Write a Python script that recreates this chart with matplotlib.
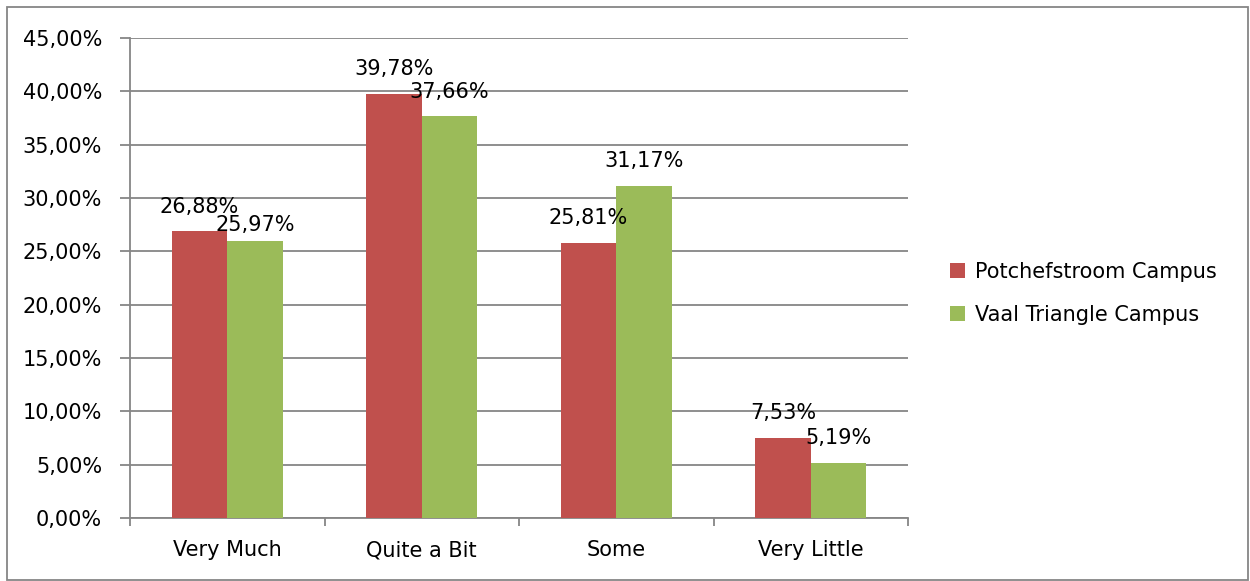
import matplotlib.pyplot as plt
import numpy as np
from matplotlib.patches import Rectangle

categories = ['Very Much', 'Quite a Bit', 'Some', 'Very Little']
potchefstroom = [26.88, 39.78, 25.81, 7.53]
vaal = [25.97, 37.66, 31.17, 5.19]
series_names = ['Potchefstroom Campus', 'Vaal Triangle Campus']
y_ticks = [0, 5, 10, 15, 20, 25, 30, 35, 40, 45]

plt.rcParams['font.family'] = ['DejaVu Sans']
grey = '#868686'
fs = 15

fig = plt.figure(figsize=(12.5, 5.81), dpi=100)
ax = fig.add_axes([0.104, 0.1084, 0.6224, 0.8262])

x = np.arange(len(categories))
w = 0.285
b1 = ax.bar(x - w / 2, potchefstroom, w, color='#C0504D', label=series_names[0], zorder=3)
b2 = ax.bar(x + w / 2, vaal, w, color='#9BBB59', label=series_names[1], zorder=3)

# value labels above bars (first green label sits lower, as in the original)
for k, (bars, vals) in enumerate(((b1, potchefstroom), (b2, vaal))):
    for i, (bar, v) in enumerate(zip(bars, vals)):
        dy = 4 if (k == 1 and i == 0) else 10.5
        ax.annotate(f"{v:.2f}%".replace('.', ','),
                    (bar.get_x() + bar.get_width() / 2, v),
                    xytext=(0, dy), textcoords='offset points',
                    ha='center', va='bottom', fontsize=fs, zorder=4)

ax.set_xlim(-0.5, len(categories) - 0.5)
ax.set_ylim(0, 45)
ax.set_yticks(y_ticks)
ax.set_yticklabels([f"{t:.2f}%".replace('.', ',') for t in y_ticks], fontsize=fs)
ax.yaxis.grid(True, color=grey, linewidth=1.3, zorder=0)

ax.set_xticks(x)
ax.set_xticklabels(categories, fontsize=fs)
ax.set_xticks(np.arange(len(categories) + 1) - 0.5, minor=True)
ax.tick_params(axis='x', which='major', length=0, pad=16)
ax.tick_params(axis='x', which='minor', length=6, width=1.3, color=grey)
ax.tick_params(axis='y', length=7, width=1.3, color=grey, pad=13)

for s in ('top', 'right'):
    ax.spines[s].set_visible(False)
for s in ('left', 'bottom'):
    ax.spines[s].set_color(grey)
    ax.spines[s].set_linewidth(1.3)

ax.legend(loc='center left', bbox_to_anchor=(0.745, 0.495), bbox_transform=fig.transFigure,
          frameon=False, fontsize=fs, handlelength=0.7, handleheight=0.7,
          handletextpad=0.5, labelspacing=1.1)

# outer chart border
fig.patches.append(Rectangle((0.0056, 0.002), 0.9928, 0.986, transform=fig.transFigure,
                             fill=False, edgecolor=grey, linewidth=1.3))

plt.savefig('out.png', dpi=100)
